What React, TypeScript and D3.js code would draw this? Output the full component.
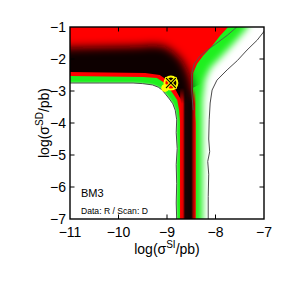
import React from 'react';
import * as d3 from 'd3';

// axis ticks
const siTicks = [-11, -10, -9, -8, -7];
const sdTicks = [-1, -2, -3, -4, -5, -6, -7];

// outer contour, lower-left (edge of the white region)
const llContourSI = [-11, -10.4, -9.7, -9.5, -9.3, -9.18, -9.1, -9.03, -8.95, -8.88, -8.83, -8.8, -8.81, -8.79, -8.81, -8.8, -8.81, -8.8];
const llContourSD = [-2.75, -2.75, -2.75, -2.77, -2.81, -2.88, -2.97, -3.1, -3.25, -3.4, -3.6, -3.9, -4.3, -4.8, -5.3, -5.9, -6.5, -7];

// outer contour, right side
const rContourSI = [-6.98, -7.14, -7.35, -7.55, -7.76, -7.97, -8.07, -8.11, -8.13, -8.14, -8.12, -8.16, -8.14, -8.15, -8.15];
const rContourSD = [-1.1, -1.41, -1.72, -2.05, -2.34, -2.66, -2.97, -3.375, -3.9, -4.5, -4.9, -5.2, -5.6, -6.3, -7];

// inner contour, right side
const innerSI = [-7.56, -7.75, -7.97, -8.15, -8.32, -8.44, -8.49, -8.49, -8.46];
const innerSD = [-1.0, -1.25, -1.5, -1.7, -1.91, -2.15, -2.45, -3.0, -3.6];

// where the green fades to white on the right
const fadeSI = [-7.33, -7.62, -7.87, -8.11, -8.22, -8.27, -8.27];
const fadeSD = [-1.0, -1.5, -1.91, -2.28, -2.66, -3.28, -7];

// red region edges
const redRightSI = [-7.74, -7.91, -8.07, -8.26, -8.38, -8.46, -8.47, -8.44, -8.41, -8.41];
const redRightSD = [-1, -1.28, -1.59, -1.91, -2.16, -2.44, -2.9, -3.4, -4, -7];
const redLeftSI = [-8.73, -8.73, -8.75, -8.79, -8.9, -9.08, -9.21, -9.49, -11];
const redLeftSD = [-7, -4.0, -3.6, -3.28, -3.03, -2.72, -2.59, -2.56, -2.53];

// dark core (best fit) edges
const coreLeftSI = [-8.67, -8.67, -8.69, -8.72, -8.82, -9.0, -9.15, -9.45, -11];
const coreLeftSD = [-7, -4.0, -3.6, -3.25, -2.97, -2.66, -2.5, -2.44, -2.41];
const darkSI = [-11.5, -9.6, -9.3, -9.05, -8.85, -8.7, -8.6, -8.52, -8.47, -8.45, -8.45, -9.4, -9.8, -11.5];
const darkSD = [-1.66, -1.6, -1.56, -1.6, -1.8, -2.02, -2.3, -2.6, -2.95, -3.3, -4.2, -4.2, -3.0, -3.0];
// vertical band cross-section (SI positions of red / dark / black edges)
const stemSI = [-8.73, -8.67, -8.63, -8.5, -8.46, -8.41];
const stemTopSD = -2.9;

// markers
const bestFit: [number, number] = [-8.92, -2.75];
const truePoint: [number, number] = [-9.04, -2.91];

const zip = (a: number[], b: number[]) => a.map((v, i) => [v, b[i]] as [number, number]);

const W = 291;
const H = 291;
const font = 'Liberation Sans, Arial, Helvetica, sans-serif';

export default function App() {
  const x = d3.scaleLinear().domain([-11, -7]).range([70, 264]);
  const y = d3.scaleLinear().domain([-1, -7]).range([27, 219]);
  const line = d3.line<[number, number]>().x(d => x(d[0])).y(d => y(d[1]));
  const poly = (pts: [number, number][]) => line(pts) + 'Z';

  const ll = zip(llContourSI, llContourSD);
  const rc = zip(rContourSI, rContourSD);
  const inner = zip(innerSI, innerSD);
  const fade = zip(fadeSI, fadeSD);

  const greenArea = poly([[-11.5, -0.5], [-6.5, -0.5], ...rc, [-8.15, -7.5], [-8.8, -7.5], ...ll.slice().reverse(), [-11.5, -2.75]]);
  const llWhite = poly([[-11.5, -2.75], ...ll, [-8.8, -7.5], [-11.5, -7.5]]);
  const rWhite = poly([[-6.98, -0.5], ...rc, [-8.15, -7.5], [-6.5, -7.5], [-6.5, -0.5]]);
  const fadeWhite = poly([[-7.33, -0.5], ...fade, [-8.27, -7.5], [-6.5, -7.5], [-6.5, -0.5]]);
  const redArea = poly([[-11.5, -0.5], [-7.74, -0.5], ...zip(redRightSI, redRightSD), [-8.41, -7.5], [-8.73, -7.5], ...zip(redLeftSI, redLeftSD), [-11.5, -2.53]]);
  const coreClip = poly([[-11.5, -0.5], [-7.3, -0.5], [-7.3, -2.0], [-8.46, -2.9], [-8.46, -7.5], [-8.67, -7.5], ...zip(coreLeftSI, coreLeftSD), [-11.5, -2.41]]);
  const dark = poly(zip(darkSI, darkSD));

  const s0 = x(stemSI[0]);
  const s1 = x(stemSI[stemSI.length - 1]);
  const off = (v: number) => (x(v) - s0) / (s1 - s0);

  const [bx, by] = [x(bestFit[0]), y(bestFit[1])];
  const r = 6.5;
  const k = r * 0.7;

  return (
    <svg width={W} height={H} style={{ position: 'absolute', left: 0, top: 0, background: '#fff' }} fontFamily={font}>
      <defs>
        <clipPath id="plot"><rect x={70} y={27} width={194} height={192} /></clipPath>
        <clipPath id="core"><path d={coreClip} /></clipPath>
        <filter id="b1" filterUnits="userSpaceOnUse" x={0} y={0} width={W} height={H}><feGaussianBlur stdDeviation={1.2} /></filter>
        <filter id="b4" filterUnits="userSpaceOnUse" x={0} y={0} width={W} height={H}><feGaussianBlur stdDeviation={3.5} /></filter>
        <filter id="b5" filterUnits="userSpaceOnUse" x={0} y={0} width={W} height={H}><feGaussianBlur stdDeviation={5} /></filter>
        <linearGradient id="stem" gradientUnits="userSpaceOnUse" x1={s0} x2={s1} y1={0} y2={0}>
          <stop offset={0} stopColor="#f00" />
          <stop offset={off(stemSI[1])} stopColor="#e00000" />
          <stop offset={off(stemSI[2])} stopColor="#1a0404" />
          <stop offset={off(stemSI[3])} stopColor="#0c0505" />
          <stop offset={off(stemSI[4])} stopColor="#a00000" />
          <stop offset={1} stopColor="#f00" />
        </linearGradient>
        <linearGradient id="stemFade" gradientUnits="userSpaceOnUse" x1={0} x2={0} y1={y(stemTopSD)} y2={y(stemTopSD - 0.5)}>
          <stop offset={0} stopColor="#fff" stopOpacity={0} />
          <stop offset={1} stopColor="#fff" stopOpacity={1} />
        </linearGradient>
        <mask id="stemMask" maskUnits="userSpaceOnUse" x={0} y={0} width={W} height={H}>
          <rect x={s0} y={y(stemTopSD)} width={s1 - s0} height={219 - y(stemTopSD) + 5} fill="url(#stemFade)" />
        </mask>
      </defs>

      <g clipPath="url(#plot)">
        <rect x={70} y={27} width={194} height={192} fill="#fff" />
        <path d={greenArea} fill="#1ef01e" />
        <path d={fadeWhite} fill="#fff" filter="url(#b4)" />
        <path d={llWhite} fill="#fff" filter="url(#b1)" />
        <path d={rWhite} fill="#fff" filter="url(#b1)" />
        <path d={redArea} fill="#f00" />
        <g clipPath="url(#core)">
          <path d={dark} fill="#0c0505" filter="url(#b5)" />
        </g>
        <rect x={s0} y={y(stemTopSD)} width={s1 - s0} height={219 - y(stemTopSD) + 5} fill="url(#stem)" mask="url(#stemMask)" />
        <path d={line(ll)!} fill="none" stroke="#4a4a4a" strokeWidth={1} />
        <path d={line(rc)!} fill="none" stroke="#4a4a4a" strokeWidth={1} />
        <path d={line(inner)!} fill="none" stroke="#555" strokeWidth={0.9} />

        <circle cx={x(truePoint[0])} cy={y(truePoint[1])} r={3.8} fill="#ffff00" />
        <circle cx={bx} cy={by} r={r} fill="none" stroke="#ffff00" strokeWidth={2} />
        <g strokeLinecap="round">
          <line x1={bx - k} y1={by - k} x2={bx + k} y2={by + k} stroke="#ffff00" strokeWidth={3.2} />
          <line x1={bx - k} y1={by + k} x2={bx + k} y2={by - k} stroke="#ffff00" strokeWidth={3.2} />
          <line x1={bx - k} y1={by - k} x2={bx + k} y2={by + k} stroke="#000" strokeWidth={1.2} />
          <line x1={bx - k} y1={by + k} x2={bx + k} y2={by - k} stroke="#000" strokeWidth={1.2} />
        </g>
      </g>

      {/* frame and inward ticks */}
      <rect x={70} y={27} width={194} height={192} fill="none" stroke="#000" strokeWidth={1.4} />
      {siTicks.slice(1, -1).map(t => (
        <g key={'x' + t} stroke="#000" strokeWidth={1}>
          <line x1={x(t)} x2={x(t)} y1={219} y2={214.5} />
          <line x1={x(t)} x2={x(t)} y1={27} y2={31.5} />
        </g>
      ))}
      {sdTicks.slice(1, -1).map(t => (
        <g key={'y' + t} stroke="#000" strokeWidth={1}>
          <line x1={70} x2={74.5} y1={y(t)} y2={y(t)} />
          <line x1={264} x2={259.5} y1={y(t)} y2={y(t)} />
        </g>
      ))}

      {siTicks.map(t => (
        <text key={'xl' + t} x={x(t)} y={237} textAnchor="middle" fontSize={14}>{'\u2212' + Math.abs(t)}</text>
      ))}
      {sdTicks.map(t => (
        <text key={'yl' + t} x={66} y={y(t) + 5} textAnchor="end" fontSize={14}>{'\u2212' + Math.abs(t)}</text>
      ))}

      <text x={167} y={254} textAnchor="middle" fontSize={14}>
        log(σ<tspan dy={-6} fontSize={10}>SI</tspan><tspan dy={6}>/pb)</tspan>
      </text>
      <text transform="translate(49,123) rotate(-90)" textAnchor="middle" fontSize={14}>
        log(σ<tspan dy={-6} fontSize={10}>SD</tspan><tspan dy={6}>/pb)</tspan>
      </text>

      <text x={81} y={197} fontSize={11}>BM3</text>
      <text x={81} y={214} fontSize={8.6}>Data: R / Scan: D</text>
    </svg>
  );
}
